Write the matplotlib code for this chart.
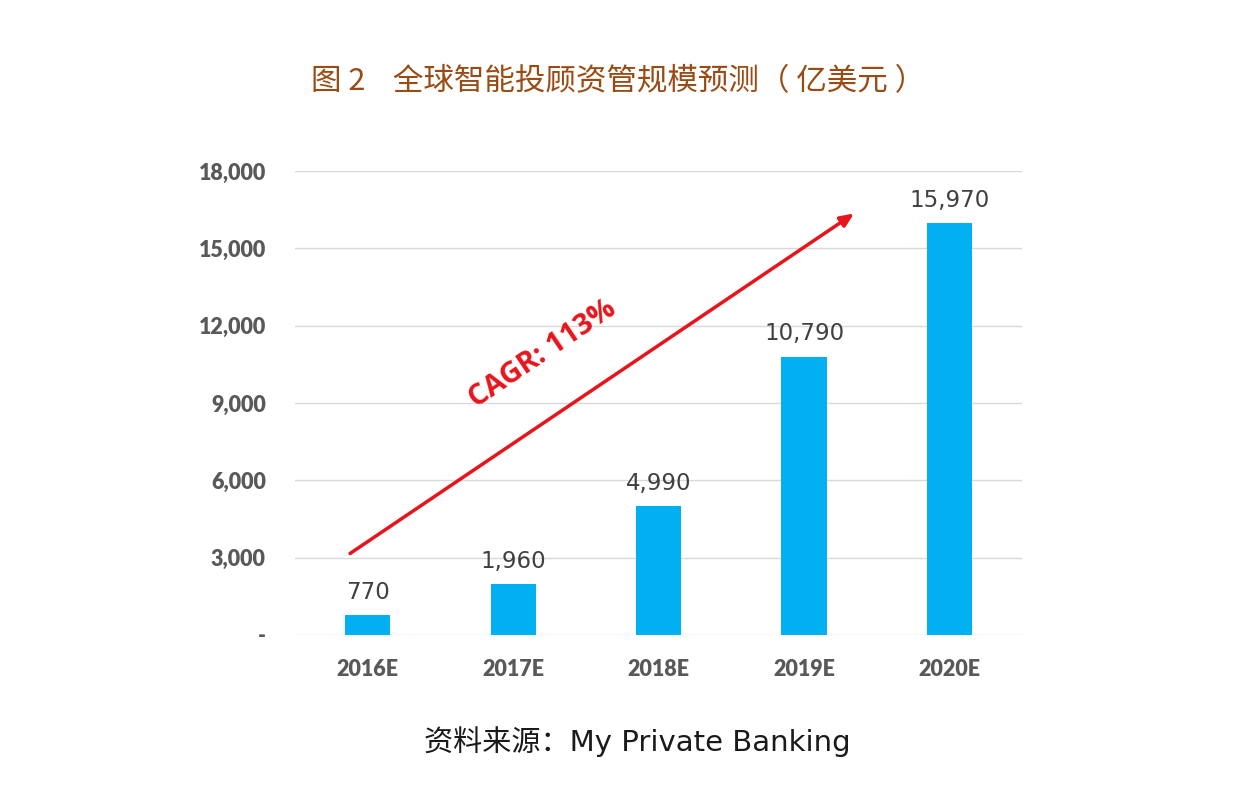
import matplotlib
matplotlib.use("Agg")
import matplotlib.pyplot as plt
from matplotlib.ticker import FuncFormatter

plt.rcParams['font.family'] = ['Noto Sans CJK SC', 'DejaVu Sans']

years = ["2016E", "2017E", "2018E", "2019E", "2020E"]
aum = [770, 1960, 4990, 10790, 15970]
yticks = [0, 3000, 6000, 9000, 12000, 15000, 18000]

fig = plt.figure(figsize=(12.42, 7.95), dpi=100)
ax = fig.add_axes([0.2375, 0.2013, 0.5855, 0.5837])

x = range(len(years))
ax.bar(x, aum, width=0.31, color="#00B0F0", zorder=3)
for i, v in zip(x, aum):
    ax.text(i, v + 450, f"{v:,}", ha="center", va="bottom", fontsize=16.5,
            color="#404040", family="DejaVu Sans")

ax.set_xlim(-0.5, 4.5)
ax.set_ylim(0, 18000)
ax.set_yticks(yticks)
ax.yaxis.set_major_formatter(FuncFormatter(lambda v, p: "-" if v == 0 else f"{int(v):,}"))
ax.set_xticks(list(x))
ax.set_xticklabels(years)
for lab in ax.get_xticklabels() + ax.get_yticklabels():
    lab.set_family("Lato")
    lab.set_fontweight("heavy")
    lab.set_fontsize(15.5)
    lab.set_color("#595959")
ax.tick_params(length=0)
ax.tick_params(axis="y", pad=21)
ax.tick_params(axis="x", pad=17)
ax.grid(axis="y", color="#D9D9D9", linewidth=1, zorder=0)
for s in ax.spines.values():
    s.set_visible(False)

# growth arrow
ax.annotate("", xy=(3.36, 16410), xytext=(-0.137, 3100),
            arrowprops=dict(arrowstyle="-|>,head_length=0.8,head_width=0.35",
                            color="#E8141B", lw=2.5), zorder=4)
ax.text(1.2, 10900, "CAGR: 113%", rotation=34, ha="center", va="center",
        fontsize=21, fontweight="bold", color="#E8141B", family="Open Sans",
        rotation_mode="anchor")

fig.text(0.4975, 0.897, "图 2    全球智能投顾资管规模预测（ 亿美元 ）", ha="center", va="center",
         fontsize=22, color="#9A4B14")
fig.text(0.513, 0.067, "资料来源：My Private Banking", ha="center", va="center",
         fontsize=21, color="#1A1A1A", family=["DejaVu Sans", "Noto Sans CJK SC"])

fig.savefig("out.png", dpi=100)
